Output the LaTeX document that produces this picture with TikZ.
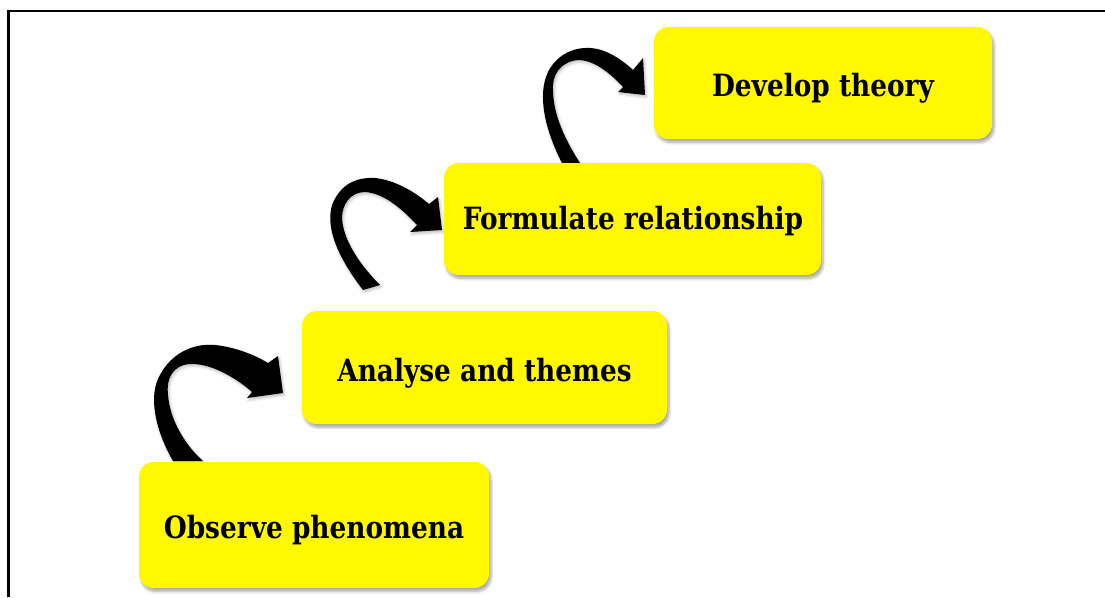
\documentclass[tikz,border=0pt]{standalone}
\usepackage{fontspec}
\setmainfont{DejaVu Serif}[FakeStretch=0.86]
\usetikzlibrary{shadows.blur}
\definecolor{boxyellow}{RGB}{255,248,0}
\begin{document}
\begin{tikzpicture}[x=0.75pt,y=-0.75pt,
  stepbox/.style={fill=boxyellow, rounded corners=11pt, inner sep=0pt,
    blur shadow={shadow xshift=1.5pt, shadow yshift=-2.5pt, shadow blur steps=6, shadow opacity=35},
    font=\bfseries\fontsize{23}{27}\selectfont},
  steptext/.style={font=\bfseries\fontsize{23}{27}\selectfont, inner sep=0pt},
  ribbon/.style={fill=black,
    blur shadow={shadow xshift=1pt, shadow yshift=-1.5pt, shadow blur steps=4, shadow opacity=25}}]
\useasboundingbox (0,0) rectangle (1105,597);
% frame
\draw[line width=1.9pt] (8.5,597) -- (8.5,11) -- (1105,11);

% curved ribbon arrows (behind the boxes)
\path[ribbon] (173,461) .. controls (155,430) and (148,395) .. (160,375)
  .. controls (172,352) and (195,343) .. (215,345)
  .. controls (235,347) and (255,355) .. (268,363) -- (278,356) -- (283,393) -- (247,398) -- (252,392)
  .. controls (235,377) and (210,363) .. (190,364)
  .. controls (172,365) and (166,380) .. (168,395)
  .. controls (170,420) and (185,445) .. (203,461) -- cycle;
\path[ribbon] (363,290) .. controls (340,260) and (325,230) .. (332,205)
  .. controls (340,185) and (355,177) .. (375,178)
  .. controls (395,180) and (415,192) .. (429,204) -- (438,197) -- (442,230) -- (410,232) -- (417,225)
  .. controls (405,212) and (385,193) .. (365,192)
  .. controls (350,192) and (342,205) .. (342,218)
  .. controls (343,240) and (360,265) .. (380,285) -- cycle;
\path[ribbon] (562,163) .. controls (545,130) and (537,95) .. (548,72)
  .. controls (556,56) and (572,47) .. (590,48)
  .. controls (607,49) and (622,60) .. (633,70) -- (643,58) -- (645,95) -- (618,92) -- (623,87)
  .. controls (612,75) and (595,60) .. (578,60)
  .. controls (565,61) and (554,70) .. (553,85)
  .. controls (552,110) and (562,135) .. (580,163) -- cycle;

% steps
\node[stepbox, minimum width=262.5pt, minimum height=94.5pt] (observe) at (314,525) {};
\node[stepbox, minimum width=273.75pt, minimum height=84.75pt] (analyse) at (484.5,367.5) {};
\node[stepbox, minimum width=282.75pt, minimum height=84pt] (formulate) at (632.5,219) {};
\node[stepbox, minimum width=253.5pt, minimum height=84pt] (develop) at (823,83) {};

% labels, set on a common baseline inside each box
\node[steptext, anchor=base] at (314,538) {Observe phenomena};
\node[steptext, anchor=base] at (484.5,381) {Analyse and themes};
\node[steptext, anchor=base] at (633,229) {Formulate relationship};
\node[steptext, anchor=base] at (823,96) {Develop theory};
\end{tikzpicture}
\end{document}
